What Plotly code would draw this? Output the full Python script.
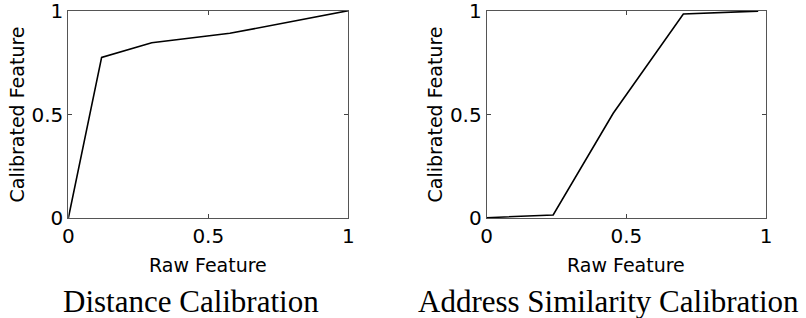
import plotly.graph_objects as go

# Data
dist_raw = [0.0, 0.119, 0.298, 0.577, 1.0]
dist_cal = [0.0, 0.775, 0.846, 0.891, 1.0]
addr_raw = [0.0, 0.238, 0.453, 0.704, 0.972]
addr_cal = [0.003, 0.016, 0.506, 0.984, 0.998]
tick_vals = [0, 0.5, 1]
tick_text = ["0", "0.5", "1"]
titles = ["Distance Calibration", "Address Similarity Calibration"]
xlabel = "Raw Feature"
ylabel = "Calibrated Feature"

W, H = 806, 318
fig = go.Figure()
fig.add_trace(go.Scatter(x=dist_raw, y=dist_cal, mode="lines",
                         line=dict(color="black", width=1.6), xaxis="x", yaxis="y",
                         showlegend=False, hoverinfo="skip"))
fig.add_trace(go.Scatter(x=addr_raw, y=addr_cal, mode="lines",
                         line=dict(color="black", width=1.6), xaxis="x2", yaxis="y2",
                         showlegend=False, hoverinfo="skip"))

left = (68.3, 348.3)
right = (486.7, 766.0)
top, bottom = 10.7, 218.3
ydom = [(H - bottom) / H, (H - top) / H]

axis_common = dict(range=[0, 1], tickvals=tick_vals, ticktext=tick_text,
                   ticks="inside", ticklen=4, tickcolor="#444",
                   showline=True, linecolor="#555", linewidth=1, mirror="ticks",
                   showgrid=False, zeroline=False, ticklabeloverflow="allow",
                   automargin=False,
                   tickfont=dict(family="DejaVu Sans", size=20, color="black"))

fig.update_layout(
    template="none",
    width=W, height=H, margin=dict(l=0, r=0, t=0, b=0, pad=0),
    paper_bgcolor="white", plot_bgcolor="white",
    xaxis=dict(domain=[left[0] / W, left[1] / W], anchor="y", **axis_common),
    yaxis=dict(domain=ydom, anchor="x", **axis_common),
    xaxis2=dict(domain=[right[0] / W, right[1] / W], anchor="y2", **axis_common),
    yaxis2=dict(domain=ydom, anchor="x2", **axis_common),
)

ann = []
lab_font = dict(family="DejaVu Sans", size=19, color="black")
title_font = dict(family="Liberation Serif", size=31, color="black")
for (l, r), ycx in [(left, 17), (right, 435)]:
    cx = (l + r) / 2
    ann.append(dict(text=xlabel, x=cx / W, y=(H - 265) / H, xref="paper", yref="paper",
                    showarrow=False, font=lab_font, xanchor="center", yanchor="middle"))
    ann.append(dict(text=ylabel, x=ycx / W, y=(H - 114.5) / H, xref="paper", yref="paper",
                    showarrow=False, font=lab_font, textangle=-90,
                    xanchor="center", yanchor="middle"))
for tx, t in zip([191, 608], titles):
    ann.append(dict(text=t, x=tx / W, y=(H - 301) / H, xref="paper", yref="paper",
                    showarrow=False, font=title_font, xanchor="center", yanchor="middle"))
fig.update_layout(annotations=ann)

fig.write_html("out.html", config={"displayModeBar": False},
               post_script="document.body.style.margin='0';document.body.style.overflow='hidden';")
